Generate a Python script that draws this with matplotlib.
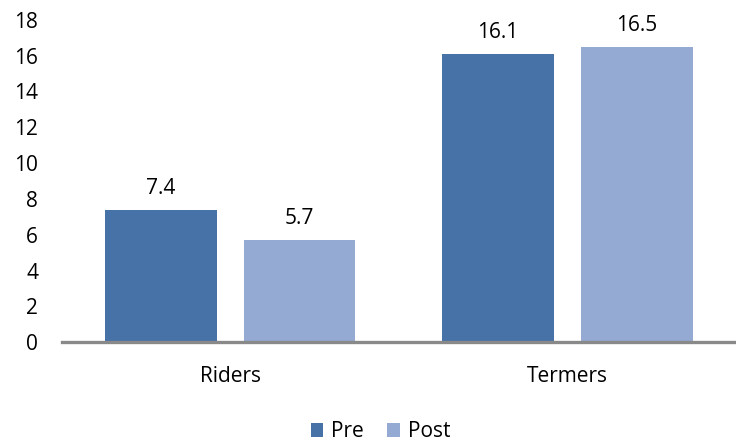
import numpy as np
import matplotlib
matplotlib.use("Agg")
import matplotlib.pyplot as plt

plt.rcParams['font.family'] = ['Open Sans', 'DejaVu Sans']

categories = ["Riders", "Termers"]
pre = [7.4, 16.1]
post = [5.7, 16.5]
yticks = [0, 2, 4, 6, 8, 10, 12, 14, 16, 18]

PRE_COLOR = "#4672A8"
POST_COLOR = "#95AAD2"
FS = 15

fig = plt.figure(figsize=(7.36, 4.42), dpi=100)
ax = fig.add_axes([0.084, 0.226, 0.916, 0.729])

x = np.arange(len(categories))
width = 0.33
offset = 0.206
bars_pre = ax.bar(x - offset, pre, width, color=PRE_COLOR, label="Pre")
bars_post = ax.bar(x + offset, post, width, color=POST_COLOR, label="Post")

# value labels sit a little above each bar
for bars, vals in ((bars_pre, pre), (bars_post, post)):
    for b, v in zip(bars, vals):
        ax.text(b.get_x() + b.get_width() / 2, v + 0.9, f"{v:.1f}",
                ha="center", va="baseline", fontsize=FS, color="black")

ax.set_xlim(-0.5, 1.5)
ax.set_ylim(0, 18)
ax.set_yticks(yticks)
ax.set_xticks(x)
ax.set_xticklabels(categories)
ax.tick_params(axis="y", length=0, pad=17, labelsize=FS)
ax.tick_params(axis="x", length=0, pad=17, labelsize=FS)

for side in ("top", "right", "left"):
    ax.spines[side].set_visible(False)
ax.spines["bottom"].set_color("#898989")
ax.spines["bottom"].set_linewidth(2.4)

fig.legend(loc="lower center", bbox_to_anchor=(0.517, -0.043), ncol=2,
           frameon=False, fontsize=FS, handlelength=0.6, handleheight=0.6,
           handletextpad=0.4, columnspacing=1.1)

fig.savefig("out.png", dpi=100)
